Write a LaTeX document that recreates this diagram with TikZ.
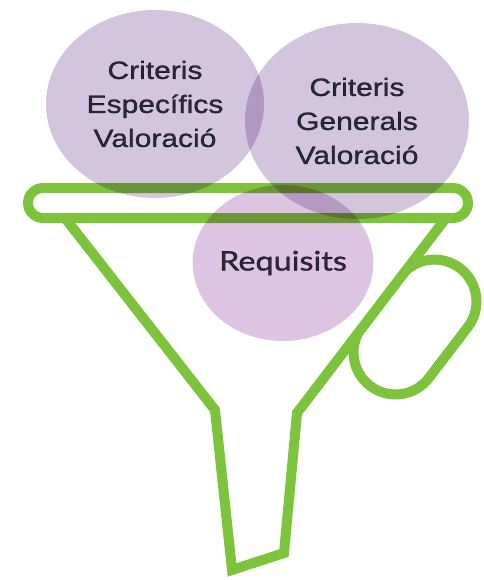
\documentclass[tikz,border=0pt]{standalone}
\usepackage{fontspec}
\usetikzlibrary{shapes.geometric}
\newfontfamily\critfont{Liberation Sans}[FakeStretch=1.2,FakeBold=1]
\newfontfamily\reqfont{Lato}[FakeStretch=1.2,FakeBold=1]
\definecolor{fgreen}{RGB}{125,195,60}
\definecolor{circA}{RGB}{212,197,222}
\definecolor{circC}{RGB}{221,196,226}
\definecolor{txtc}{RGB}{52,52,66}
\begin{document}
\begin{tikzpicture}[x=1pt,y=-1pt,
  funnel/.style={draw=fgreen,line width=10pt,line join=miter},
  bubble/.style={ellipse,fill=#1,draw=none,inner sep=0pt,text=txtc,align=center,blend mode=multiply},
  crit/.style={font=\critfont\fontsize{25}{34}\selectfont},
  req/.style={font=\reqfont\fontsize{27}{32}\selectfont}]
\useasboundingbox (0,0) rectangle (483,580);
% handle (only the part right of the funnel wall)
\begin{scope}
  \clip (536,100) -- (230.5,500) -- (600,500) -- (600,100) -- cycle;
  \node[draw=fgreen,line width=10pt,rectangle,rounded corners=41.9pt,
        minimum width=148pt,minimum height=84pt,inner sep=0pt,rotate=52.6]
        (handle) at (415,327) {};
\end{scope}
% funnel body
\draw[funnel] (65,218) -- (215,410) -- (232,570) -- (284,553) -- (297,413) -- (446,218);
% rim
\draw[funnel,rounded corners=15pt] (28,188) rectangle (468,218);
% bubbles
\node[bubble=circA,minimum width=218pt,minimum height=188pt,crit] (cesp) at (155,104)
  {Criteris\\Específics\\Valoració};
\node[bubble=circA,minimum width=224pt,minimum height=196pt,crit] (cgen) at (357,121)
  {Criteris\\Generals\\Valoració};
\node[bubble=circC,minimum width=180pt,minimum height=156pt,req] (req) at (283,263)
  {Requisits};
\end{tikzpicture}
\end{document}
